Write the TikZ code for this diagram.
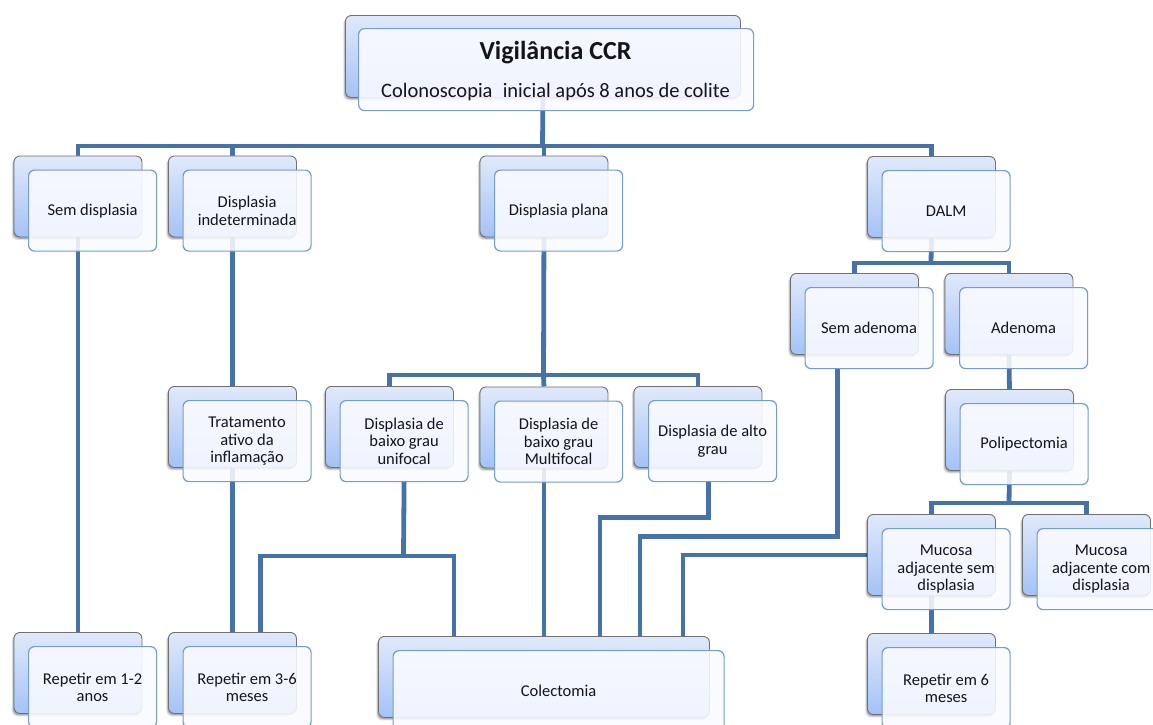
\documentclass[tikz,border=0pt]{standalone}
\usepackage{fontspec}
\setmainfont{Carlito}
\usetikzlibrary{shadows}
\definecolor{connc}{RGB}{70,114,170}
\definecolor{backtop}{RGB}{224,233,250}
\definecolor{backbot}{RGB}{164,194,247}
\definecolor{backdraw}{RGB}{112,112,112}
\definecolor{frontfill}{RGB}{250,251,255}
\definecolor{frontdraw}{RGB}{118,156,205}
\definecolor{txt}{RGB}{20,20,25}
\pgfdeclarelayer{bg}
\pgfsetlayers{bg,main}
\tikzset{
  backbox/.style={draw=backdraw, line width=0.9pt, rounded corners=6pt,
    top color=backtop, bottom color=backbot, anchor=north west,
    inner sep=0pt, minimum height=81pt,
    general shadow={shadow xshift=-2.2pt, shadow yshift=-3pt, fill=black, opacity=0.12},
    general shadow={shadow xshift=-1.2pt, shadow yshift=-1.8pt, fill=black, opacity=0.22}},
  frontbox/.style={draw=frontdraw, line width=1.2pt, rounded corners=6pt,
    fill=frontfill, fill opacity=0.88, text opacity=1, anchor=north west,
    inner sep=0pt, minimum height=81pt, align=center, text=txt,
    font=\fontsize{16.5}{17.5}\selectfont},
  conn/.style={draw=connc, line width=4.8pt, line join=miter}
}
\newcommand\dbox[6]{%
  \node[backbox, minimum width=#4, minimum height=#5] (#1-b) at (#2,#3) {};
  \node[frontbox, minimum width=#4, minimum height=#5] (#1) at (#2+14.5,#3+14) {#6};
}
\begin{document}
\begin{tikzpicture}[x=1pt,y=-1pt]
\begin{pgfonlayer}{bg}
\fill[white] (0,0) rectangle (1153,724);
\end{pgfonlayer}
\useasboundingbox (0,0) rectangle (1153,724);

% top box
\node[backbox, minimum width=395, minimum height=82] (top-b) at (345,15) {};
\node[frontbox, minimum width=395, minimum height=82] (top) at (358,28) {};
\node[anchor=base, text=txt, font=\fontsize{26}{30}\selectfont\bfseries] (title) at (555.5,59) {Vigilância CCR};
\node[anchor=base, text=txt, font=\fontsize{20.5}{24}\selectfont] (subtitle) at (555.5,97) {Colonoscopia\enspace inicial após 8 anos de colite};

% row 2
\dbox{sd}{13.5}{155.5}{128}{81}{Sem displasia}
\dbox{di}{168}{155.5}{128}{81}{Displasia\\indeterminada}
\dbox{dp}{479.5}{155.5}{128}{81}{Displasia plana}
\dbox{dalm}{867}{156}{128}{81}{DALM}
% row 3
\dbox{sa}{790}{273}{128}{81}{Sem adenoma}
\dbox{ad}{944.5}{273}{128}{81}{Adenoma}
\dbox{poli}{945}{389}{128}{81}{Polipectomia}
% row 4
\dbox{trat}{168}{386}{128}{81}{Tratamento\\ativo da\\inflamação}
\dbox{uni}{325}{386}{128}{81}{Displasia de\\baixo grau\\unifocal}
\dbox{multi}{479.5}{386.5}{128}{81}{Displasia de\\baixo grau\\Multifocal}
\dbox{alto}{633.5}{386}{128}{81}{Displasia de alto\\grau}
% row 5
\dbox{ms}{867}{514}{128}{81}{Mucosa\\adjacente sem\\displasia}
\dbox{mc}{1022}{514}{128}{81}{Mucosa\\adjacente com\\displasia}
% bottom row
\dbox{rep12}{13.5}{632}{128}{81}{Repetir em 1-2\\anos}
\dbox{rep36}{168}{632}{128}{81}{Repetir em 3-6\\meses}
\dbox{col}{378}{636}{331}{81}{Colectomia}
\dbox{rep6}{867}{633}{128}{81}{Repetir em 6\\meses}

\coordinate (bus1) at (542.5,146);
\coordinate (bus2) at (543.5,375);
\coordinate (bus3) at (931,263);
\coordinate (bus4) at (1009,503);
\coordinate (j5) at (403.5,556);

\begin{pgfonlayer}{bg}
\draw[conn] (top-b.south) -- (bus1);
\draw[conn] (sd-b.north) |- (bus1) -| (dalm-b.north);
\draw[conn] (di-b.north) -- (di-b.north |- bus1);
\draw[conn] (dp-b.north) -- (dp-b.north |- bus1);
\draw[conn] (sd-b.south) -- (rep12-b.north);
\draw[conn] (di-b.south) -- (trat-b.north);
\draw[conn] (trat-b.south) -- (rep36-b.north);
\draw[conn] (dp-b.south) -- (bus2);
\draw[conn] (uni-b.north) |- (bus2) -| (alto-b.north);
\draw[conn] (multi-b.north) -- (bus2);
\draw[conn] (dalm-b.south) -- (bus3);
\draw[conn] (sa-b.north) |- (bus3) -| (ad-b.north);
\draw[conn] (ad-b.south) -- (poli-b.north);
\draw[conn] (poli-b.south) -- (bus4);
\draw[conn] (ms-b.north) |- (bus4) -| (mc-b.north);
\draw[conn] (ms-b.south) -- (rep6-b.north);
\draw[conn] (uni.south) -- (j5);
\draw[conn] ([xshift=28pt]rep36-b.north) |- (j5) -| ([xshift=-90pt]col-b.north);
\draw[conn] (multi-b.south) -- (multi-b.south |- col-b.north);
\draw[conn] ([xshift=-4pt]alto.south) -- ++(0,35) -| ([xshift=56pt]col-b.north);
\draw[conn] ([xshift=-32pt]sa.south) -- ++(0,167) -| ([xshift=96pt]col-b.north);
\draw[conn] (ms-b.west) -| ([xshift=139pt]col-b.north);
\end{pgfonlayer}
\end{tikzpicture}
\end{document}
